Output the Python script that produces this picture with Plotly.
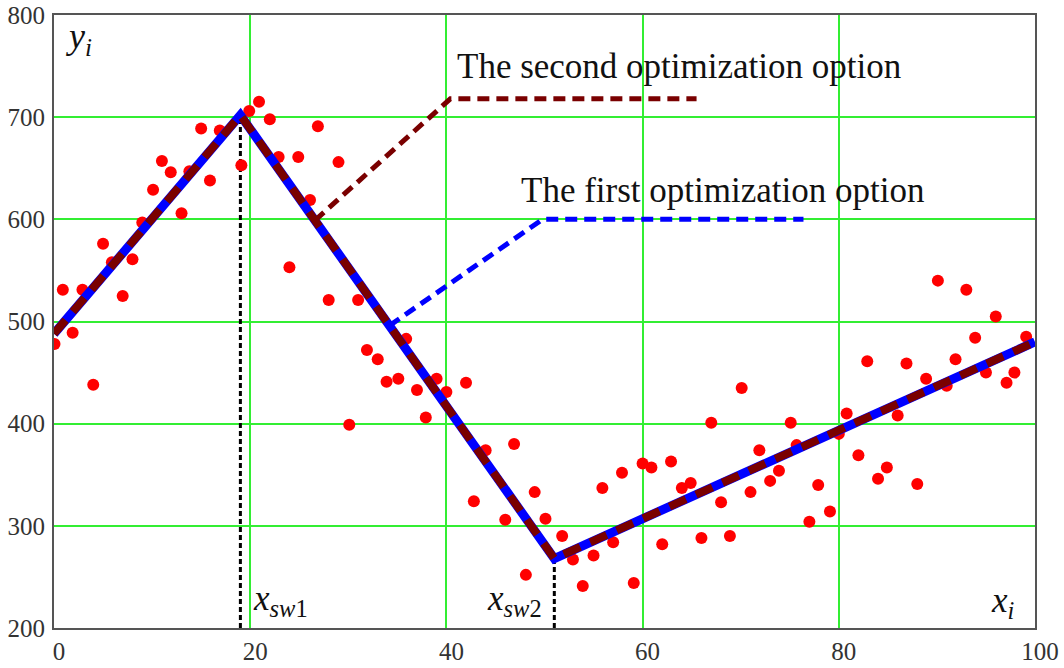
import plotly.graph_objects as go

# Observed data points (x_i, y_i)
x_obs = [0.05, 0.9, 1.9, 2.9, 4.0, 5.0, 5.9, 7.0, 8.0, 9.0, 10.1, 11.0, 11.9, 13.0, 13.8,
         15.0, 15.9, 16.9, 19.1, 19.9, 20.9, 22.0, 22.9, 24.0, 24.9, 26.1, 26.9, 28.0, 29.0,
         30.1, 31.0, 31.9, 33.0, 33.9, 35.1, 35.9, 37.0, 37.9, 39.0, 40.0, 42.0, 42.8, 44.0,
         46.0, 46.9, 48.1, 49.0, 50.1, 51.8, 52.9, 53.9, 55.0, 55.9, 57.0, 57.9, 59.1, 60.0,
         60.9, 62.0, 62.9, 64.0, 64.9, 66.0, 67.0, 68.0, 68.9, 70.1, 71.0, 71.9, 73.0, 73.9,
         75.1, 75.7, 77.0, 77.9, 79.1, 80.0, 80.8, 82.0, 82.9, 84.0, 84.9, 86.0, 86.9, 88.0,
         88.9, 90.1, 91.0, 91.9, 93.0, 93.9, 95.0, 96.0, 97.1, 97.9, 99.1]
y_obs = [478, 531, 489, 531, 438, 576, 558, 525, 561, 597, 629, 657, 646, 606, 647,
         689, 638, 687, 653, 706, 715, 698, 661, 553, 661, 619, 691, 521, 656,
         399, 521, 472, 463, 441, 444, 483, 433, 406, 444, 431, 440, 324, 374,
         306, 380, 252, 333, 307, 290, 267, 241, 271, 337, 284, 352, 244, 361,
         357, 282, 363, 337, 342, 288, 401, 323, 290, 435, 333, 374, 344, 354,
         401, 379, 304, 340, 314, 390, 410, 369, 461, 346, 357, 408, 459, 341,
         444, 540, 437, 463, 531, 484, 450, 505, 440, 450, 485]

# Piecewise-linear model (breakpoints)
x_model = [0, 19, 51, 100]
y_model = [488, 702, 268, 480]

# Switch points
x_sw = [19, 51]
y_sw_top = [702, 268]

# Leader lines for the two options
x_opt1 = [34.2, 49.8, 76.4]
y_opt1 = [496, 600, 600]
x_opt2 = [26.6, 40.4, 65.5]
y_opt2 = [599, 718, 718]

x_ticks = [0, 20, 40, 60, 80, 100]
y_ticks = [200, 300, 400, 500, 600, 700, 800]

SERIF = "Liberation Serif"
TICKFONT = "Times New Roman"

fig = go.Figure()

# black dotted switch lines
for xs, ys in zip(x_sw, y_sw_top):
    fig.add_trace(go.Scatter(x=[xs, xs], y=[200, ys], mode="lines",
                             line=dict(color="black", width=3, dash="5px,3px"),
                             hoverinfo="skip", showlegend=False))

# observed points
fig.add_trace(go.Scatter(x=x_obs, y=y_obs, mode="markers",
                         marker=dict(color="#ff0000", size=12),
                         showlegend=False))

# model - first option (blue solid)
fig.add_trace(go.Scatter(x=x_model, y=y_model, mode="lines",
                         line=dict(color="#0000ff", width=9), showlegend=False))
# model - second option (dark red dashed)
fig.add_trace(go.Scatter(x=x_model, y=y_model, mode="lines",
                         line=dict(color="#7a0000", width=8, dash="18px,11px"),
                         showlegend=False))

# leader lines
fig.add_trace(go.Scatter(x=x_opt1, y=y_opt1, mode="lines",
                         line=dict(color="#0000ff", width=5, dash="12px,7px"),
                         showlegend=False))
fig.add_trace(go.Scatter(x=x_opt2, y=y_opt2, mode="lines",
                         line=dict(color="#7a0000", width=5, dash="12px,7px"),
                         showlegend=False))

annots = [
    dict(x=40.9, y=749.5, text="The second optimization option", xanchor="left", yanchor="middle",
         font=dict(family=SERIF, size=35, color="#111")),
    dict(x=47.4, y=628, text="The first optimization option", xanchor="left", yanchor="middle",
         font=dict(family=SERIF, size=35, color="#111")),
    dict(x=1.0, y=777, text="<i>y<sub>i</sub></i>", xanchor="left", yanchor="middle",
         font=dict(family=SERIF, size=36, color="#111")),
    dict(x=20.1, y=227, text="<i>x<sub>sw</sub></i><sub>1</sub>", xanchor="left", yanchor="middle",
         font=dict(family=SERIF, size=35, color="#111")),
    dict(x=43.9, y=227, text="<i>x<sub>sw</sub></i><sub>2</sub>", xanchor="left", yanchor="middle",
         font=dict(family=SERIF, size=35, color="#111")),
    dict(x=95.3, y=225, text="<i>x<sub>i</sub></i>", xanchor="left", yanchor="middle",
         font=dict(family=SERIF, size=35, color="#111")),
]
for a in annots:
    a.update(xref="x", yref="y", showarrow=False)
fig.update_layout(annotations=annots)

fig.update_layout(
    width=1064, height=668,
    margin=dict(l=54, r=29, t=15, b=40, autoexpand=False),
    paper_bgcolor="white", plot_bgcolor="white",
    showlegend=False,
    font=dict(family=SERIF),
    xaxis=dict(range=[0, 100], tickvals=x_ticks, showgrid=True, gridcolor="#33ee33", gridwidth=2,
               zeroline=False, showline=True, linecolor="#555", linewidth=2, mirror=True,
               ticks="", tickfont=dict(family=TICKFONT, size=25, color="#333"),
               ticklabelshift=5, ticklabelstandoff=0, automargin=False),
    yaxis=dict(range=[200, 800], tickvals=y_ticks, showgrid=True, gridcolor="#33ee33", gridwidth=2,
               zeroline=False, showline=True, linecolor="#555", linewidth=2, mirror=True,
               ticks="", tickfont=dict(family=TICKFONT, size=25, color="#333"),
               ticklabelstandoff=2, automargin=False),
)

fig.write_html("out.html")
